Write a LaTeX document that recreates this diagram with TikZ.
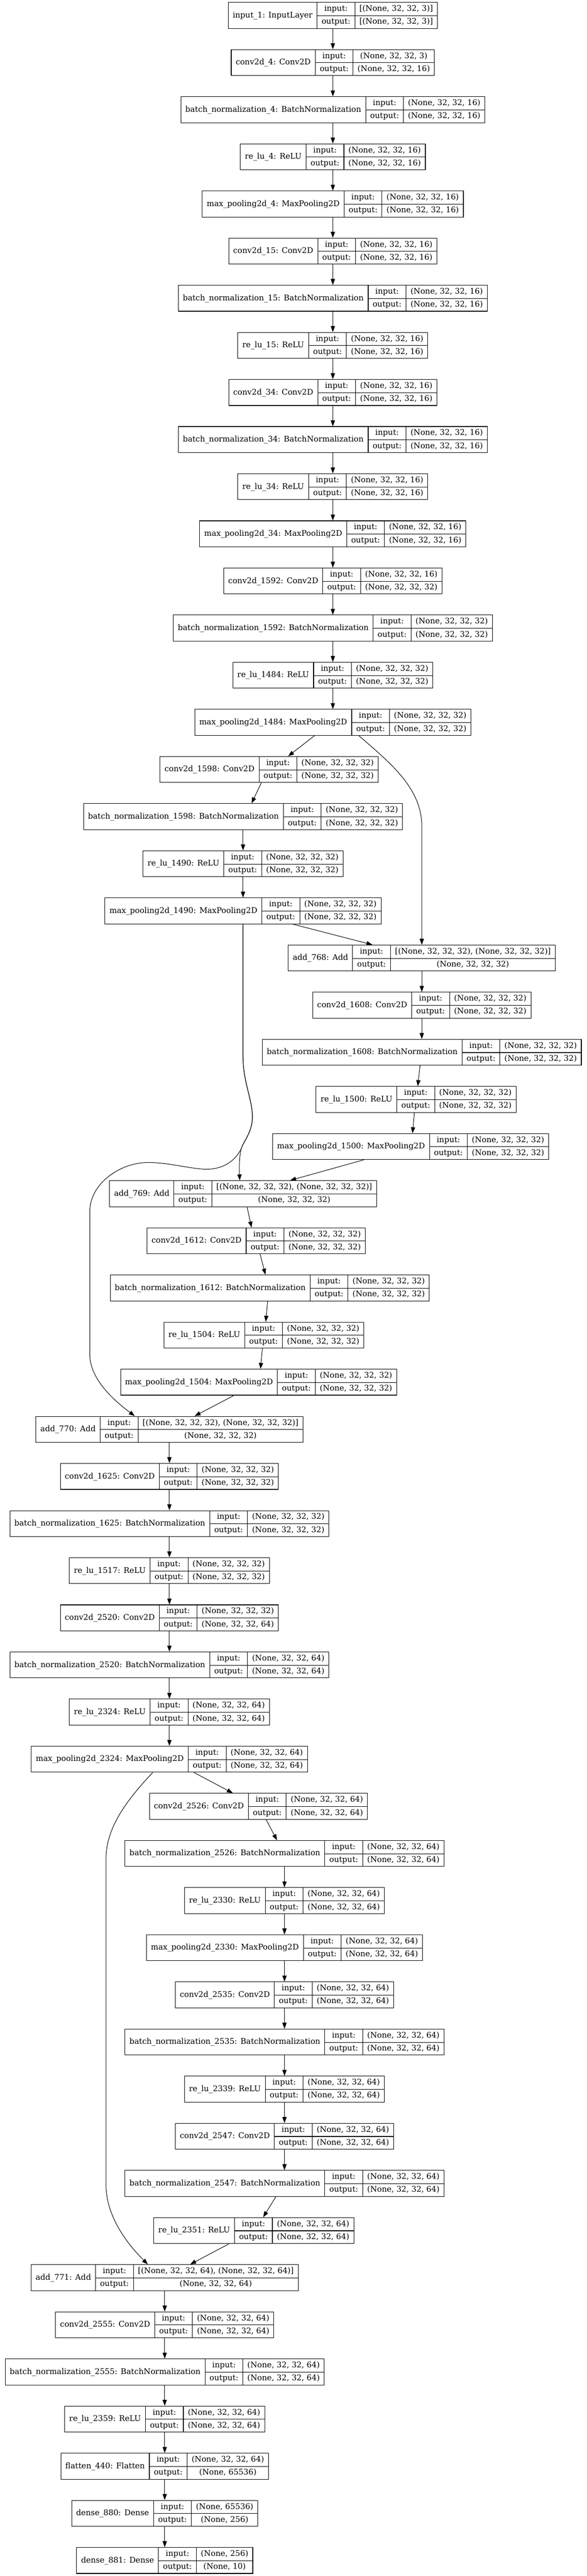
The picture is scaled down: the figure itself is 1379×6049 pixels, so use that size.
\documentclass[tikz,border=0pt]{standalone}
\usepackage{fontspec}
\usepackage{tikz}
\usetikzlibrary{shapes, calc, arrows.meta}

\newfontfamily\recfont{DejaVu Serif}
\newlength\outw
\settowidth\outw{\recfont\fontsize{10pt}{12pt}\selectfont output:}
\pgfmathsetmacro\recsize{10*67.7/\outw}
\newcommand\rst{\rule[-10pt]{0pt}{30.5pt}}
\newcommand\layerrec[3]{%
	{\recfont\fontsize{\recsize pt}{22pt}\selectfont
	\setlength\tabcolsep{10.6pt}\setlength\arrayrulewidth{1.3pt}%
	\begin{tabular}{c|c|c}
		\raisebox{-15.25pt}[0pt][0pt]{#1} & \rst input: & #2\\ \cline{2-3}
		& \rst output: & #3
	\end{tabular}}}

\begin{document}
\begin{tikzpicture}[x=1pt, y=-1pt, node distance=110.67pt, >={Triangle[length=14pt,width=10pt]}]
		\tikzstyle{layer}=[rectangle, draw, inner sep=0pt, line width=1.3pt]
		\tikzstyle{link}=[->, line width=1.2pt]
		\tikzstyle{every node}=[layer]

		\path[use as bounding box, fill=white] (0,0) rectangle (1379,6049);

		\node (input1) at (782,36.2) {\layerrec{input\_1: InputLayer}{[(None, 32, 32, 3)]}{[(None, 32, 32, 3)]}};
		\node[below of=input1] (conv4) {\layerrec{conv2d\_4: Conv2D}{(None, 32, 32, 3)}{(None, 32, 32, 16)}};
		\node[below of=conv4] (bn4) {\layerrec{batch\_normalization\_4: BatchNormalization}{(None, 32, 32, 16)}{(None, 32, 32, 16)}};
		\node[below of=bn4] (relu4) {\layerrec{re\_lu\_4: ReLU}{(None, 32, 32, 16)}{(None, 32, 32, 16)}};
		\node[below of=relu4] (pool4) {\layerrec{max\_pooling2d\_4: MaxPooling2D}{(None, 32, 32, 16)}{(None, 32, 32, 16)}};
		\node[below of=pool4] (conv15) {\layerrec{conv2d\_15: Conv2D}{(None, 32, 32, 16)}{(None, 32, 32, 16)}};
		\node[below of=conv15] (bn15) {\layerrec{batch\_normalization\_15: BatchNormalization}{(None, 32, 32, 16)}{(None, 32, 32, 16)}};
		\node[below of=bn15] (relu15) {\layerrec{re\_lu\_15: ReLU}{(None, 32, 32, 16)}{(None, 32, 32, 16)}};
		\node[below of=relu15] (conv34) {\layerrec{conv2d\_34: Conv2D}{(None, 32, 32, 16)}{(None, 32, 32, 16)}};
		\node[below of=conv34] (bn34) {\layerrec{batch\_normalization\_34: BatchNormalization}{(None, 32, 32, 16)}{(None, 32, 32, 16)}};
		\node[below of=bn34] (relu34) {\layerrec{re\_lu\_34: ReLU}{(None, 32, 32, 16)}{(None, 32, 32, 16)}};
		\node[below of=relu34] (pool34) {\layerrec{max\_pooling2d\_34: MaxPooling2D}{(None, 32, 32, 16)}{(None, 32, 32, 16)}};
		\node[below of=pool34] (conv1592) {\layerrec{conv2d\_1592: Conv2D}{(None, 32, 32, 16)}{(None, 32, 32, 32)}};
		\node[below of=conv1592] (bn1592) {\layerrec{batch\_normalization\_1592: BatchNormalization}{(None, 32, 32, 32)}{(None, 32, 32, 32)}};
		\node[below of=bn1592] (relu1484) {\layerrec{re\_lu\_1484: ReLU}{(None, 32, 32, 32)}{(None, 32, 32, 32)}};
		\node[below of=relu1484] (pool1484) {\layerrec{max\_pooling2d\_1484: MaxPooling2D}{(None, 32, 32, 32)}{(None, 32, 32, 32)}};

		% first residual block
		\node[below of=pool1484, xshift=-149.6pt] (conv1598) {\layerrec{conv2d\_1598: Conv2D}{(None, 32, 32, 32)}{(None, 32, 32, 32)}};
		\node[below of=conv1598, xshift=-61.4pt] (bn1598) {\layerrec{batch\_normalization\_1598: BatchNormalization}{(None, 32, 32, 32)}{(None, 32, 32, 32)}};
		\node[below of=bn1598] (relu1490) {\layerrec{re\_lu\_1490: ReLU}{(None, 32, 32, 32)}{(None, 32, 32, 32)}};
		\node[below of=relu1490] (pool1490) {\layerrec{max\_pooling2d\_1490: MaxPooling2D}{(None, 32, 32, 32)}{(None, 32, 32, 32)}};
		\node[below of=pool1490, xshift=420pt] (add768) {\layerrec{add\_768: Add}{[(None, 32, 32, 32), (None, 32, 32, 32)]}{(None, 32, 32, 32)}};
		\node[below of=add768] (conv1608) {\layerrec{conv2d\_1608: Conv2D}{(None, 32, 32, 32)}{(None, 32, 32, 32)}};
		\node[below of=conv1608] (bn1608) {\layerrec{batch\_normalization\_1608: BatchNormalization}{(None, 32, 32, 32)}{(None, 32, 32, 32)}};
		\node[below of=bn1608, xshift=-13.4pt] (relu1500) {\layerrec{re\_lu\_1500: ReLU}{(None, 32, 32, 32)}{(None, 32, 32, 32)}};
		\node[below of=relu1500, xshift=-12.8pt] (pool1500) {\layerrec{max\_pooling2d\_1500: MaxPooling2D}{(None, 32, 32, 32)}{(None, 32, 32, 32)}};
		\node[below of=pool1500, xshift=-393.6pt] (add769) {\layerrec{add\_769: Add}{[(None, 32, 32, 32), (None, 32, 32, 32)]}{(None, 32, 32, 32)}};
		\node[below of=add769, xshift=30.8pt] (conv1612) {\layerrec{conv2d\_1612: Conv2D}{(None, 32, 32, 32)}{(None, 32, 32, 32)}};
		\node[below of=conv1612, xshift=32pt] (bn1612) {\layerrec{batch\_normalization\_1612: BatchNormalization}{(None, 32, 32, 32)}{(None, 32, 32, 32)}};
		\node[below of=bn1612, xshift=-14pt] (relu1504) {\layerrec{re\_lu\_1504: ReLU}{(None, 32, 32, 32)}{(None, 32, 32, 32)}};
		\node[below of=relu1504, xshift=-12.3pt] (pool1504) {\layerrec{max\_pooling2d\_1504: MaxPooling2D}{(None, 32, 32, 32)}{(None, 32, 32, 32)}};
		\node[below of=pool1504, xshift=-209.7pt] (add770) {\layerrec{add\_770: Add}{[(None, 32, 32, 32), (None, 32, 32, 32)]}{(None, 32, 32, 32)}};

		\node[below of=add770] (conv1625) {\layerrec{conv2d\_1625: Conv2D}{(None, 32, 32, 32)}{(None, 32, 32, 32)}};
		\node[below of=conv1625] (bn1625) {\layerrec{batch\_normalization\_1625: BatchNormalization}{(None, 32, 32, 32)}{(None, 32, 32, 32)}};
		\node[below of=bn1625] (relu1517) {\layerrec{re\_lu\_1517: ReLU}{(None, 32, 32, 32)}{(None, 32, 32, 32)}};
		\node[below of=relu1517] (conv2520) {\layerrec{conv2d\_2520: Conv2D}{(None, 32, 32, 32)}{(None, 32, 32, 64)}};
		\node[below of=conv2520] (bn2520) {\layerrec{batch\_normalization\_2520: BatchNormalization}{(None, 32, 32, 64)}{(None, 32, 32, 64)}};
		\node[below of=bn2520] (relu2324) {\layerrec{re\_lu\_2324: ReLU}{(None, 32, 32, 64)}{(None, 32, 32, 64)}};
		\node[below of=relu2324] (pool2324) {\layerrec{max\_pooling2d\_2324: MaxPooling2D}{(None, 32, 32, 64)}{(None, 32, 32, 64)}};

		% second residual block
		\node[below of=pool2324, xshift=209.3pt] (conv2526) {\layerrec{conv2d\_2526: Conv2D}{(None, 32, 32, 64)}{(None, 32, 32, 64)}};
		\node[below of=conv2526, xshift=61.1pt] (bn2526) {\layerrec{batch\_normalization\_2526: BatchNormalization}{(None, 32, 32, 64)}{(None, 32, 32, 64)}};
		\node[below of=bn2526] (relu2330) {\layerrec{re\_lu\_2330: ReLU}{(None, 32, 32, 64)}{(None, 32, 32, 64)}};
		\node[below of=relu2330] (pool2330) {\layerrec{max\_pooling2d\_2330: MaxPooling2D}{(None, 32, 32, 64)}{(None, 32, 32, 64)}};
		\node[below of=pool2330] (conv2535) {\layerrec{conv2d\_2535: Conv2D}{(None, 32, 32, 64)}{(None, 32, 32, 64)}};
		\node[below of=conv2535] (bn2535) {\layerrec{batch\_normalization\_2535: BatchNormalization}{(None, 32, 32, 64)}{(None, 32, 32, 64)}};
		\node[below of=bn2535] (relu2339) {\layerrec{re\_lu\_2339: ReLU}{(None, 32, 32, 64)}{(None, 32, 32, 64)}};
		\node[below of=relu2339] (conv2547) {\layerrec{conv2d\_2547: Conv2D}{(None, 32, 32, 64)}{(None, 32, 32, 64)}};
		\node[below of=conv2547] (bn2547) {\layerrec{batch\_normalization\_2547: BatchNormalization}{(None, 32, 32, 64)}{(None, 32, 32, 64)}};
		\node[below of=bn2547, xshift=-72.1pt] (relu2351) {\layerrec{re\_lu\_2351: ReLU}{(None, 32, 32, 64)}{(None, 32, 32, 64)}};
		\node[below of=relu2351, xshift=-209.3pt] (add771) {\layerrec{add\_771: Add}{[(None, 32, 32, 64), (None, 32, 32, 64)]}{(None, 32, 32, 64)}};

		\node[below of=add771] (conv2555) {\layerrec{conv2d\_2555: Conv2D}{(None, 32, 32, 64)}{(None, 32, 32, 64)}};
		\node[below of=conv2555] (bn2555) {\layerrec{batch\_normalization\_2555: BatchNormalization}{(None, 32, 32, 64)}{(None, 32, 32, 64)}};
		\node[below of=bn2555] (relu2359) {\layerrec{re\_lu\_2359: ReLU}{(None, 32, 32, 64)}{(None, 32, 32, 64)}};
		\node[below of=relu2359] (flatten440) {\layerrec{flatten\_440: Flatten}{(None, 32, 32, 64)}{(None, 65536)}};
		\node[below of=flatten440] (dense880) {\layerrec{dense\_880: Dense}{(None, 65536)}{(None, 256)}};
		\node[below of=dense880] (dense881) {\layerrec{dense\_881: Dense}{(None, 256)}{(None, 10)}};

		% straight links
		\draw[link] (input1) -- (conv4);
		\draw[link] (conv4) -- (bn4);
		\draw[link] (bn4) -- (relu4);
		\draw[link] (relu4) -- (pool4);
		\draw[link] (pool4) -- (conv15);
		\draw[link] (conv15) -- (bn15);
		\draw[link] (bn15) -- (relu15);
		\draw[link] (relu15) -- (conv34);
		\draw[link] (conv34) -- (bn34);
		\draw[link] (bn34) -- (relu34);
		\draw[link] (relu34) -- (pool34);
		\draw[link] (pool34) -- (conv1592);
		\draw[link] (conv1592) -- (bn1592);
		\draw[link] (bn1592) -- (relu1484);
		\draw[link] (relu1484) -- (pool1484);
		\draw[link] ($(pool1484.south)+(-43,0)$) -- ($(conv1598.north)+(44.6,0)$);
		\draw[link] ($(conv1598.south)+(-18.4,0)$) -- ($(bn1598.north)+(20,0)$);
		\draw[link] (bn1598) -- (relu1490);
		\draw[link] (relu1490) -- (pool1490);
		\draw[link] ($(pool1490.south)+(116.8,0)$) -- ($(add768.north)+(-116,0)$);
		\draw[link] (add768) -- (conv1608);
		\draw[link] (conv1608) -- (bn1608);
		\draw[link] ($(bn1608.south)+(-4.2,0)$) -- ($(relu1500.north)+(3.9,0)$);
		\draw[link] ($(relu1500.south)+(-4,0)$) -- ($(pool1500.north)+(4.4,0)$);
		\draw[link] ($(pool1500.south)+(-109.9,0)$) -- ($(add769.north)+(110.4,0)$);
		\draw[link] ($(add769.south)+(9.3,0)$) -- ($(conv1612.north)+(-11,0)$);
		\draw[link] ($(conv1612.south)+(9,0)$) -- ($(bn1612.north)+(-10.4,0)$);
		\draw[link] ($(bn1612.south)+(-5.2,0)$) -- ($(relu1504.north)+(4.4,0)$);
		\draw[link] ($(relu1504.south)+(-3.5,0)$) -- ($(pool1504.north)+(4.3,0)$);
		\draw[link] ($(pool1504.south)+(-58,0)$) -- ($(add770.north)+(59.3,0)$);
		\draw[link] (add770) -- (conv1625);
		\draw[link] (conv1625) -- (bn1625);
		\draw[link] (bn1625) -- (relu1517);
		\draw[link] (relu1517) -- (conv2520);
		\draw[link] (conv2520) -- (bn2520);
		\draw[link] (bn2520) -- (relu2324);
		\draw[link] (relu2324) -- (pool2324);
		\draw[link] ($(pool2324.south)+(57.6,0)$) -- ($(conv2526.north)+(-60.3,0)$);
		\draw[link] ($(conv2526.south)+(18,0)$) -- ($(bn2526.north)+(-17.6,0)$);
		\draw[link] (bn2526) -- (relu2330);
		\draw[link] (relu2330) -- (pool2330);
		\draw[link] (pool2330) -- (conv2535);
		\draw[link] (conv2535) -- (bn2535);
		\draw[link] (bn2535) -- (relu2339);
		\draw[link] (relu2339) -- (conv2547);
		\draw[link] (conv2547) -- (bn2547);
		\draw[link] ($(bn2547.south)+(-20.2,0)$) -- ($(relu2351.north)+(22,0)$);
		\draw[link] ($(relu2351.south)+(-58.1,0)$) -- ($(add771.north)+(59.8,0)$);
		\draw[link] (add771) -- (conv2555);
		\draw[link] (conv2555) -- (bn2555);
		\draw[link] (bn2555) -- (relu2359);
		\draw[link] (relu2359) -- (flatten440);
		\draw[link] (flatten440) -- (dense880);
		\draw[link] (dense880) -- (dense881);

		% skip links
		\draw[link] ($(pool1484.south)+(61,0)$) .. controls (915,1790) and (991,1850) .. (991,1940) -- (add768.north);
		\draw[link] (pool1490.south) -- (571,2483) .. controls (571,2540) and (594,2585) .. (593,2625)
			.. controls (592,2660) and (572,2680) .. (567,2697)
			.. controls (562,2712) and (562,2745) .. ($(add769.north)+(-7.9,0)$);
		\draw[link] (pool1490.south) -- (571,2483) .. controls (571,2540) and (594,2585) .. (593,2625)
			.. controls (592,2660) and (572,2680) .. (567,2697)
			.. controls (545,2740) and (505,2748) .. (473,2745)
			.. controls (430,2741) and (385,2728) .. (340,2730)
			.. controls (280,2733) and (211,2780) .. (211,2845) -- (211,3180)
			.. controls (211,3240) and (270,3290) .. ($(add770.north)+(-81.4,0)$);
		\draw[link] ($(pool2324.south)+(-39.2,0)$) .. controls (300,4225) and (249,4290) .. (249,4365) -- (249,5130)
			.. controls (249,5205) and (300,5270) .. ($(add771.north)+(-39.6,0)$);

	\end{tikzpicture}
\end{document}
